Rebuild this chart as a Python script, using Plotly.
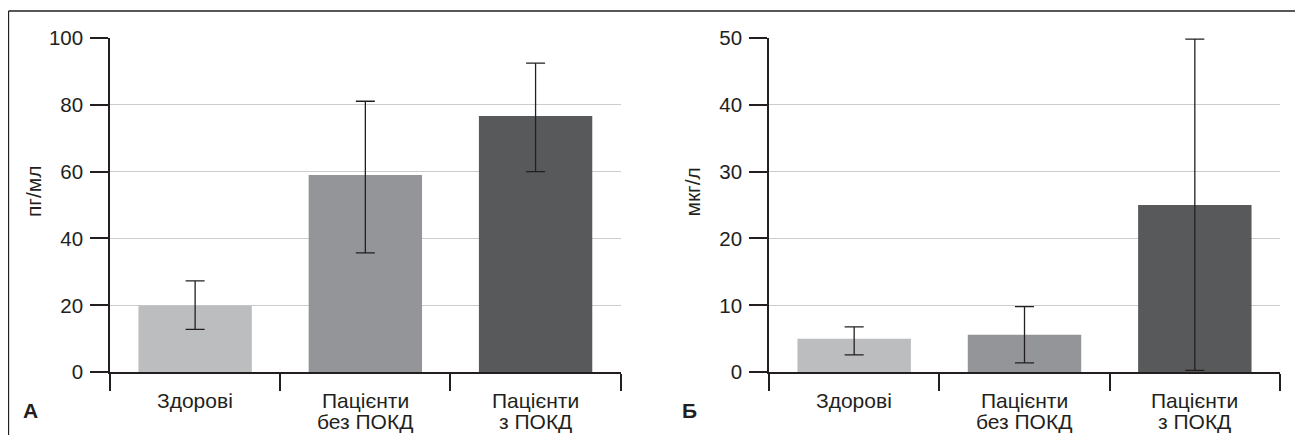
import plotly.graph_objects as go

W, H = 1303, 435
OFF = 8  # page body margin offset

categories = ["Здорові", "Пацієнти без ПОКД", "Пацієнти з ПОКД"]
cat_line1 = ["Здорові", "Пацієнти", "Пацієнти"]
cat_line2 = ["", "без ПОКД", "з ПОКД"]
bar_colors = ["#bcbdbf", "#939598", "#58595b"]

# Panel A (пг/мл)
a_values = [20.0, 59.0, 76.6]
a_err_plus = [7.3, 22.0, 15.8]
a_err_minus = [7.2, 23.3, 16.6]

# Panel Б (мкг/л)
b_values = [5.0, 5.6, 25.0]
b_err_plus = [1.8, 4.2, 24.8]
b_err_minus = [2.4, 4.2, 24.7]

a_ticks = [0, 20, 40, 60, 80, 100]
b_ticks = [0, 10, 20, 30, 40, 50]

FONT = "Liberation Sans, Arial, Helvetica, sans-serif"
TXT = "#231f20"
AXC = "#231f20"
GRID = "#cccccc"


def px(sx):
    return (sx - OFF) / W


def py(sy):
    return 1 - (sy - OFF) / H


fig = go.Figure()


def add_bars(vals, plus, minus, xa, ya):
    fig.add_trace(go.Bar(
        x=categories, y=vals, xaxis=xa, yaxis=ya,
        marker=dict(color=bar_colors, line=dict(width=0)),
        width=0.666,
        error_y=dict(type="data", array=plus, arrayminus=minus, symmetric=False,
                     color=AXC, thickness=1.3, width=9.5),
        showlegend=False, hoverinfo="skip",
    ))


add_bars(a_values, a_err_plus, a_err_minus, "x", "y")
add_bars(b_values, b_err_plus, b_err_minus, "x2", "y2")

xcommon = dict(
    type="category", range=[-0.5, 2.5], showline=True, linecolor=AXC, linewidth=1.5,
    ticks="outside", tickson="boundaries", ticklen=17, tickwidth=1.5, tickcolor=AXC,
    showgrid=False, zeroline=False, fixedrange=True, automargin=False,
    showticklabels=False,
)
ycommon = dict(
    showline=True, linecolor=AXC, linewidth=1.5, ticks="outside", ticklen=18,
    tickwidth=1.5, tickcolor=AXC, showgrid=True, gridcolor=GRID, gridwidth=1,
    zeroline=False, fixedrange=True, domain=[py(372.3), py(37.7)], automargin=False,
    tickfont=dict(family=FONT, size=20.5, color=TXT), ticklabelstandoff=3,
)

annotations = []
for xa in ("x", "x2"):
    for c, l1, l2 in zip(categories, cat_line1, cat_line2):
        annotations.append(dict(text=l1, xref=xa, x=c, yref="paper", y=py(400),
                                showarrow=False, xanchor="center", yanchor="middle",
                                font=dict(family=FONT, size=21, color=TXT)))
        if l2:
            annotations.append(dict(text=l2, xref=xa, x=c, yref="paper", y=py(421),
                                    showarrow=False, xanchor="center", yanchor="middle",
                                    font=dict(family=FONT, size=21, color=TXT)))

for text, sx in (("пг/мл", 33.5), ("мкг/л", 692)):
    annotations.append(dict(text=text, xref="paper", yref="paper", x=px(sx), y=py(191.5),
                            textangle=-90, showarrow=False, xanchor="center",
                            yanchor="middle", font=dict(family=FONT, size=21, color=TXT)))

for text, sx in (("<b>А</b>", 30), ("<b>Б</b>", 689)):
    annotations.append(dict(text=text, xref="paper", yref="paper", x=px(sx), y=py(410),
                            showarrow=False, xanchor="center", yanchor="middle",
                            font=dict(family=FONT, size=21, color=TXT)))

fig.update_layout(
    width=W, height=H, autosize=False,
    margin=dict(l=0, r=0, t=0, b=0, pad=0),
    paper_bgcolor="white", plot_bgcolor="white",
    xaxis=dict(xcommon, domain=[px(110), px(620.7)], anchor="y"),
    xaxis2=dict(xcommon, domain=[px(769), px(1280)], anchor="y2"),
    yaxis=dict(ycommon, range=[0, 100], tickvals=a_ticks, anchor="x"),
    yaxis2=dict(ycommon, range=[0, 50], tickvals=b_ticks, anchor="x2"),
    shapes=[
        dict(type="line", xref="paper", yref="paper", x0=px(8.5), x1=px(1300),
             y0=py(11), y1=py(11), line=dict(color=AXC, width=1.3)),
        dict(type="line", xref="paper", yref="paper", x0=px(8.5), x1=px(8.5),
             y0=py(11), y1=py(440), line=dict(color=AXC, width=1.3)),
        dict(type="line", xref="paper", yref="paper", x0=px(1300), x1=px(1300),
             y0=py(11), y1=py(440), line=dict(color=AXC, width=1.3)),
    ],
    annotations=annotations,
)

fig.write_html("out.html")
